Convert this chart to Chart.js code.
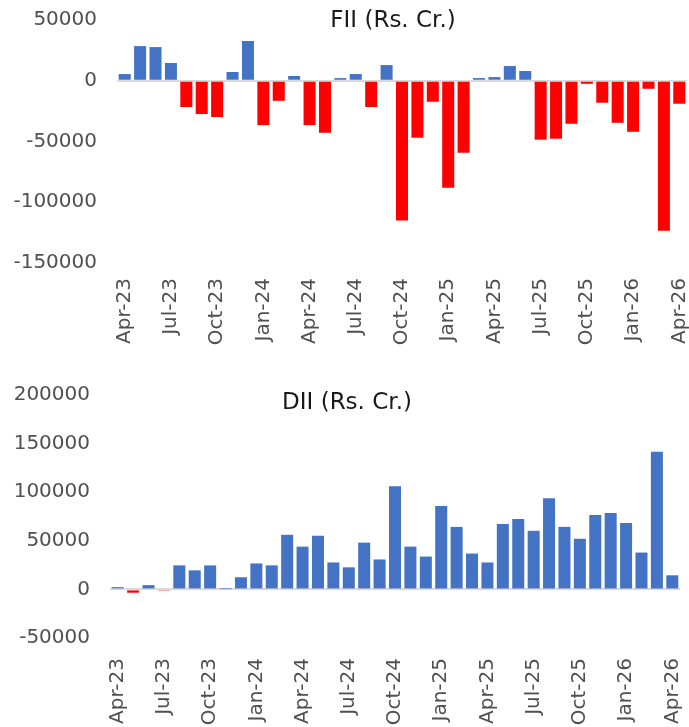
<!DOCTYPE html>
<html>
<head>
<meta charset="utf-8">
<script src="https://cdn.jsdelivr.net/npm/chart.js@4/dist/chart.umd.min.js"></script>
<style>
  body { margin: 0; background: #fff; width: 689px; height: 727px; position: relative; overflow: hidden; }
  canvas { position: absolute; left: 0; }
  .title { position: absolute; font-family: "DejaVu Sans", sans-serif; font-size: 23px; line-height: 23px; color: #1a1a1a; white-space: nowrap; transform: translateX(-50%); }
</style>
</head>
<body>
<canvas id="fii_chart" width="689" height="360" style="top:0"></canvas>
<canvas id="dii_chart" width="689" height="367" style="top:360px"></canvas>
<div class="title" style="left:393px;top:8px">FII (Rs. Cr.)</div>
<div class="title" style="left:347px;top:390px">DII (Rs. Cr.)</div>
<script>
const months = ['Apr-23','May-23','Jun-23','Jul-23','Aug-23','Sep-23','Oct-23','Nov-23','Dec-23',
    'Jan-24','Feb-24','Mar-24','Apr-24','May-24','Jun-24','Jul-24','Aug-24','Sep-24','Oct-24','Nov-24','Dec-24',
    'Jan-25','Feb-25','Mar-25','Apr-25','May-25','Jun-25','Jul-25','Aug-25','Sep-25','Oct-25','Nov-25','Dec-25',
    'Jan-26','Feb-26','Mar-26','Apr-26'];

const fiiFlows = [5500, 28500, 27700, 14600, -21600, -27400, -29900, 7200, 32700,
    -36500, -16500, 3900, -36500, -42800, 2200, 5500, -21600, 12900, -115000, -46900, -17300,
    -88000, -59200, 2200, 3000, 12100, 8000, -48500, -47700, -35400, -2500, -18100, -34600,
    -42000, -6600, -123400, -18900];

const diiFlows = [2300, -3400, 4400, -700, 24700, 19600, 24700, 300, 12500,
    26700, 24700, 56200, 44000, 55200, 27700, 22700, 48100, 30800, 106000, 44000, 33800,
    85700, 64300, 36900, 27700, 67400, 72500, 60300, 93800, 64300, 52100, 76500, 78600,
    68400, 37900, 141500, 14500];

const fiiTicks = { min: -150000, max: 50000, step: 50000 };
const diiTicks = { min: -50000, max: 200000, step: 50000 };

const blue = '#4472C4';
const red = '#FF0000';
const tickFont = { family: 'DejaVu Sans', size: 20 };

function barColors(values){
    return values.map(v => v < 0 ? red : blue);
}

function makeChart(id, values, ticks, pad, yWidth, xHeight, xPad){
    const ctx = document.getElementById(id).getContext('2d');
    return new Chart(ctx, {
        type: 'bar',
        data: {
            labels: months,
            datasets: [{
                data: values,
                backgroundColor: barColors(values),
                categoryPercentage: 1,
                barPercentage: 0.78
            }]
        },
        options: {
            responsive: false,
            animation: false,
            layout: { padding: pad },
            plugins: { legend: { display: false }, tooltip: { enabled: false } },
            scales: {
                x: {
                    grid: { display: false },
                    border: { display: false },
                    // keep the plot area where the original has it
                    afterFit: s => { s.height = xHeight; s.paddingLeft = 0; s.paddingRight = 0; },
                    ticks: {
                        autoSkip: false,
                        minRotation: 90,
                        maxRotation: 90,
                        padding: xPad,
                        color: '#505050',
                        font: tickFont,
                        callback: function(val, i){ return i % 3 === 0 ? months[i] : ''; }
                    }
                },
                y: {
                    min: ticks.min,
                    max: ticks.max,
                    border: { display: false },
                    afterFit: s => { s.width = yWidth; s.paddingTop = 0; s.paddingBottom = 0; },
                    grid: {
                        drawTicks: false,
                        lineWidth: 2,
                        color: c => c.tick && c.tick.value === 0 ? '#D9D9D9' : 'rgba(0,0,0,0)'
                    },
                    ticks: {
                        stepSize: ticks.step,
                        padding: 20,
                        color: '#505050',
                        font: tickFont,
                        callback: v => String(v)
                    }
                }
            }
        }
    });
}

makeChart('fii_chart', fiiFlows, fiiTicks, { top: 20, right: 2, left: 0, bottom: 0 }, 117, 97, 7);
makeChart('dii_chart', diiFlows, diiTicks, { top: 35, right: 9, left: 0, bottom: 0 }, 110, 89, 12);
</script>
</body>
</html>
